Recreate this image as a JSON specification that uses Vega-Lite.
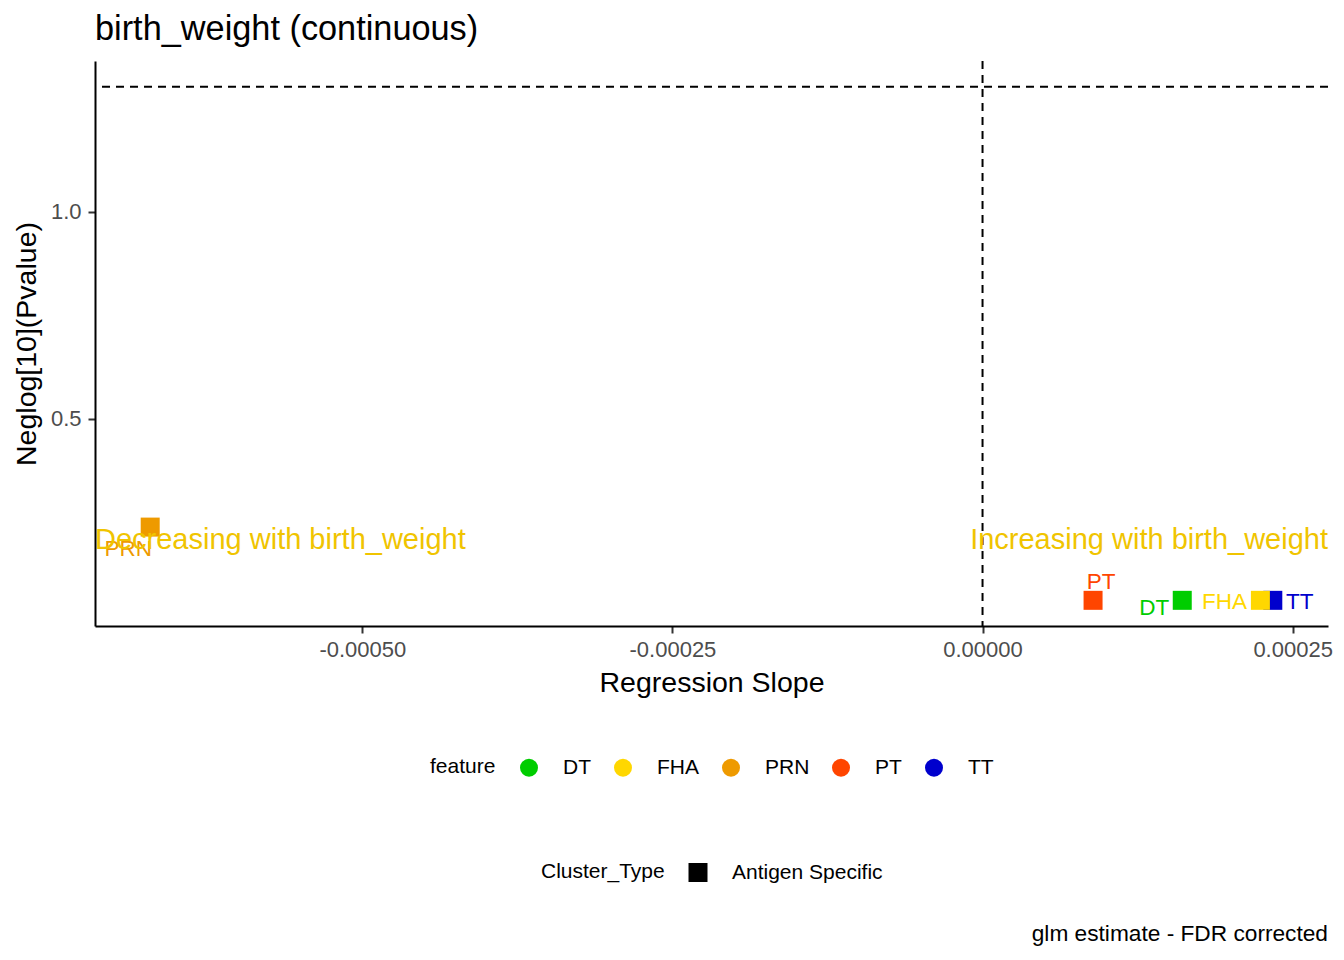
{
  "$schema": "https://vega.github.io/schema/vega-lite/v6.json",
  "background": "white",
  "padding": {"left": 12, "top": 12, "right": 0, "bottom": 0},
  "title": {
    "text": "glm estimate - FDR corrected",
    "orient": "bottom",
    "anchor": "end",
    "frame": "group",
    "fontSize": 22.7,
    "fontWeight": "normal",
    "color": "black",
    "offset": 40
  },
  "config": {
    "font": "Liberation Sans",
    "view": {"stroke": null},
    "axis": {
      "grid": false,
      "domainColor": "black",
      "domainWidth": 2,
      "tickColor": "#333333",
      "tickWidth": 2,
      "tickSize": 7,
      "labelColor": "#4D4D4D",
      "labelFontSize": 22,
      "titleFontSize": 28.5,
      "titleFontWeight": "normal",
      "titleColor": "black"
    },
    "legend": {
      "orient": "none",
      "direction": "horizontal",
      "titleOrient": "left",
      "titleFontSize": 21,
      "titleFontWeight": "normal",
      "titleColor": "black",
      "labelFontSize": 21,
      "labelColor": "black",
      "titlePadding": 22.5,
      "columnPadding": 21,
      "labelOffset": 23.5,
      "symbolStrokeWidth": 0
    }
  },
  "datasets": {
    "clusters": [
      {"feature": "PRN", "Cluster_Type": "Antigen Specific", "slope": -0.000671, "neglog": 0.239},
      {"feature": "PT", "Cluster_Type": "Antigen Specific", "slope": 0.0000891, "neglog": 0.0624},
      {"feature": "DT", "Cluster_Type": "Antigen Specific", "slope": 0.000161, "neglog": 0.0624},
      {"feature": "TT", "Cluster_Type": "Antigen Specific", "slope": 0.000234, "neglog": 0.0624},
      {"feature": "FHA", "Cluster_Type": "Antigen Specific", "slope": 0.000224, "neglog": 0.0624}
    ],
    "cutoffs": [
      {"slope": 0, "neglog": 1.30103}
    ],
    "annotations": [
      {"label": "Decreasing with birth_weight", "slope": -0.0007155, "neglog": 0.209},
      {"label": "Increasing with birth_weight", "slope": 0.0002785, "neglog": 0.209}
    ]
  },
  "vconcat": [
    {
      "width": 1233,
      "height": 565,
      "title": {
        "text": "birth_weight (continuous)",
        "anchor": "start",
        "frame": "group",
        "fontSize": 34.3,
        "fontWeight": "normal",
        "color": "black",
        "offset": 13
      },
      "layer": [
        {
          "data": {"name": "clusters"},
          "mark": {"type": "point", "filled": true, "size": 361, "opacity": 1},
          "encoding": {
            "x": {
              "field": "slope",
              "type": "quantitative",
              "title": "Regression Slope",
              "scale": {"domain": [-0.0007155, 0.0002785], "nice": false, "zero": false},
              "axis": {
                "values": [-0.0005, -0.00025, 0, 0.00025],
                "labelExpr": "replace(format(datum.value, '.5f'), '\u2212', '-')",
                "labelPadding": 6,
                "titlePadding": 8
              }
            },
            "y": {
              "field": "neglog",
              "type": "quantitative",
              "title": "Neglog[10](Pvalue)",
              "scale": {"domain": [0.0005, 1.363], "nice": false, "zero": false},
              "axis": {
                "values": [0.5, 1.0],
                "format": ".1f",
                "labelPadding": 7,
                "titlePadding": 9
              }
            },
            "color": {
              "field": "feature",
              "type": "nominal",
              "scale": {
                "domain": ["DT", "FHA", "PRN", "PT", "TT"],
                "range": ["#00CD00", "#FFD700", "#EE9A00", "#FF4500", "#0000CD"]
              },
              "legend": {
                "title": "feature",
                "symbolType": "circle",
                "symbolSize": 324,
                "legendX": 335,
                "legendY": 696
              }
            },
            "shape": {
              "field": "Cluster_Type",
              "type": "nominal",
              "scale": {"domain": ["Antigen Specific"], "range": ["square"]},
              "legend": {
                "title": "Cluster_Type",
                "symbolSize": 361,
                "symbolFillColor": "black",
                "symbolStrokeColor": "black",
                "legendX": 446,
                "legendY": 801
              }
            }
          }
        },
        {
          "data": {"name": "cutoffs"},
          "mark": {"type": "rule", "strokeDash": [8, 6], "strokeWidth": 2, "color": "black"},
          "encoding": {"y": {"field": "neglog", "type": "quantitative"}}
        },
        {
          "data": {"name": "cutoffs"},
          "mark": {"type": "rule", "strokeDash": [8, 6], "strokeWidth": 2, "color": "black"},
          "encoding": {"x": {"field": "slope", "type": "quantitative"}}
        },
        {
          "data": {"name": "clusters"},
          "transform": [{"filter": "datum.feature == 'PRN'"}],
          "mark": {"type": "text", "fontSize": 22.5, "dx": -22, "dy": 22},
          "encoding": {
            "x": {"field": "slope", "type": "quantitative"},
            "y": {"field": "neglog", "type": "quantitative"},
            "text": {"field": "feature"},
            "color": {"field": "feature", "type": "nominal"}
          }
        },
        {
          "data": {"name": "clusters"},
          "transform": [{"filter": "datum.feature == 'PT'"}],
          "mark": {"type": "text", "fontSize": 22.5, "dx": 8, "dy": -18},
          "encoding": {
            "x": {"field": "slope", "type": "quantitative"},
            "y": {"field": "neglog", "type": "quantitative"},
            "text": {"field": "feature"},
            "color": {"field": "feature", "type": "nominal"}
          }
        },
        {
          "data": {"name": "clusters"},
          "transform": [{"filter": "datum.feature == 'DT'"}],
          "mark": {"type": "text", "fontSize": 22.5, "dx": -28, "dy": 8},
          "encoding": {
            "x": {"field": "slope", "type": "quantitative"},
            "y": {"field": "neglog", "type": "quantitative"},
            "text": {"field": "feature"},
            "color": {"field": "feature", "type": "nominal"}
          }
        },
        {
          "data": {"name": "clusters"},
          "transform": [{"filter": "datum.feature == 'FHA'"}],
          "mark": {"type": "text", "fontSize": 22.5, "dx": -36, "dy": 2},
          "encoding": {
            "x": {"field": "slope", "type": "quantitative"},
            "y": {"field": "neglog", "type": "quantitative"},
            "text": {"field": "feature"},
            "color": {"field": "feature", "type": "nominal"}
          }
        },
        {
          "data": {"name": "clusters"},
          "transform": [{"filter": "datum.feature == 'TT'"}],
          "mark": {"type": "text", "fontSize": 22.5, "dx": 27, "dy": 2},
          "encoding": {
            "x": {"field": "slope", "type": "quantitative"},
            "y": {"field": "neglog", "type": "quantitative"},
            "text": {"field": "feature"},
            "color": {"field": "feature", "type": "nominal"}
          }
        },
        {
          "data": {"name": "annotations"},
          "transform": [{"filter": "datum.slope < 0"}],
          "mark": {"type": "text", "fontSize": 29, "align": "left", "baseline": "middle", "color": "#F0C400"},
          "encoding": {
            "x": {"field": "slope", "type": "quantitative"},
            "y": {"field": "neglog", "type": "quantitative"},
            "text": {"field": "label"}
          }
        },
        {
          "data": {"name": "annotations"},
          "transform": [{"filter": "datum.slope > 0"}],
          "mark": {"type": "text", "fontSize": 29, "align": "right", "baseline": "middle", "color": "#F0C400"},
          "encoding": {
            "x": {"field": "slope", "type": "quantitative"},
            "y": {"field": "neglog", "type": "quantitative"},
            "text": {"field": "label"}
          }
        }
      ]
    }
  ]
}
